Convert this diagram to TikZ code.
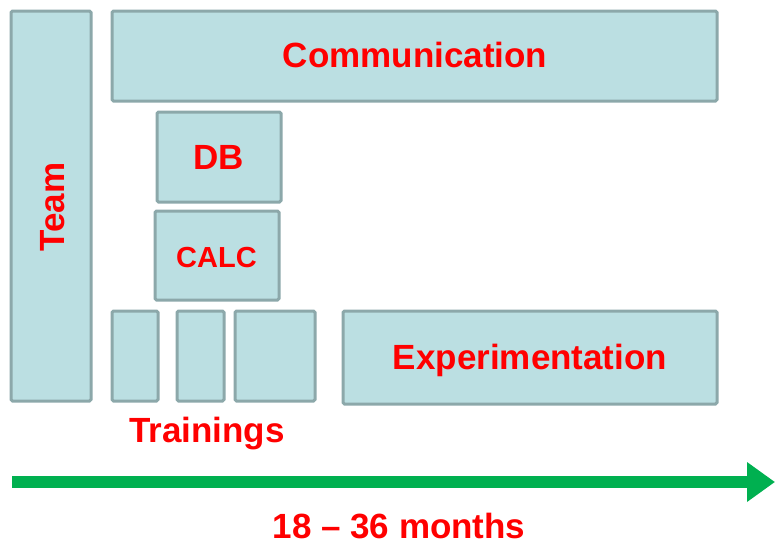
\documentclass[tikz,border=0pt]{standalone}
\usepackage{fontspec}
\setmainfont{Liberation Sans}
\usetikzlibrary{arrows.meta}
\definecolor{boxfill}{HTML}{BBDFE2}
\definecolor{boxline}{HTML}{8CA8AA}
\definecolor{txtred}{HTML}{FF0000}
\definecolor{arrgreen}{HTML}{00B050}
\begin{document}
\begin{tikzpicture}[x=1pt,y=-1pt,
  blk/.style={draw=boxline,fill=boxfill,line width=3pt,rounded corners=1.5pt},
  lbl/.style={text=txtred,font=\bfseries\fontsize{35}{40}\selectfont,inner sep=0pt,anchor=base}]
\useasboundingbox (0,0) rectangle (775,544);
\draw[blk] (11,11) rectangle (91,401);
\node[lbl,rotate=90] (team) at (64,207) {Team};
\draw[blk] (112,11) rectangle (717,101);
\node[lbl] (comm) at (415,67) {Communication};
\draw[blk] (157,112) rectangle (281,202);
\node[lbl] (db) at (219,169) {DB};
\draw[blk] (155,211) rectangle (279,300);
\node[lbl,font=\bfseries\fontsize{29}{34}\selectfont] (calc) at (216.5,267) {CALC};
\draw[blk] (112,311) rectangle (158,401);
\draw[blk] (177,311) rectangle (224,401);
\draw[blk] (235,311) rectangle (315,401);
\draw[blk] (343,311) rectangle (717,404);
\node[lbl] (exp) at (530,369) {Experimentation};
\node[lbl] (train) at (207,442) {Trainings};
\coordinate (a0) at (12,482);
\coordinate (a1) at (775,482);
\draw[arrgreen,line width=12pt,-{Triangle[length=28pt,width=38pt]}] (a0) -- (a1);
\node[lbl] (months) at (399,538) {18 – 36 months};
\end{tikzpicture}
\end{document}
